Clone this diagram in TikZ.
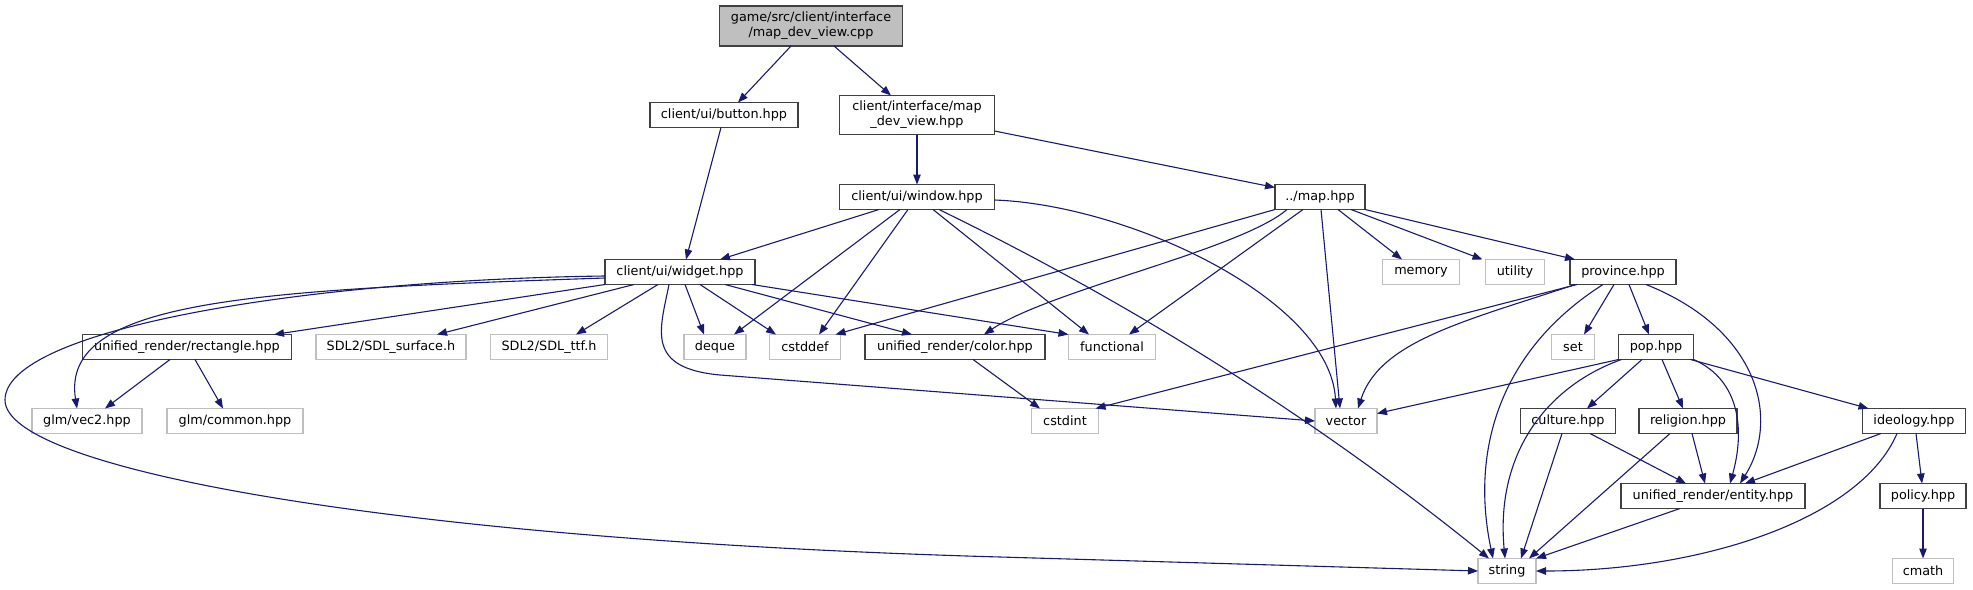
\documentclass[tikz,border=0pt]{standalone}
\usepackage{fontspec}
\setmainfont{DejaVu Sans}
\usetikzlibrary{arrows.meta}
\definecolor{edgeblue}{HTML}{191970}
\definecolor{lgray}{HTML}{BFBFBF}
\definecolor{dgray}{HTML}{404040}
\begin{document}
\begin{tikzpicture}[x=1pt,y=-1pt,
 box/.style={draw=dgray, line width=1.3pt, fill=white, inner sep=0pt, outer sep=0pt, font=\fontsize{12.8}{15}\selectfont, align=center, minimum height=25pt},
 gbox/.style={box, draw=lgray},
 rootbox/.style={box, fill=lgray, minimum height=40pt},
 e/.style={draw=edgeblue, line width=1.1pt, -{Triangle[length=10pt,width=7.5pt]}},
]
\useasboundingbox (0,0) rectangle (1973,589);
\node[rootbox, minimum width=183pt] (root) at (811,26) {game/src/client/interface\\/map\_dev\_view.cpp};
\node[box, minimum width=148pt] (button) at (724,115) {client/ui/button.hpp};
\node[box, minimum width=155pt, minimum height=39pt] (mdv) at (917,115) {client/interface/map\\\_dev\_view.hpp};
\node[box, minimum width=155pt] (window) at (917,197) {client/ui/window.hpp};
\node[box, minimum width=90pt] (map) at (1320,197) {../map.hpp};
\node[box, minimum width=150pt] (widget) at (680,272) {client/ui/widget.hpp};
\node[gbox, minimum width=77pt] (memory) at (1421,272) {memory};
\node[gbox, minimum width=59pt] (utility) at (1515,272) {utility};
\node[box, minimum width=106pt] (province) at (1623,272) {province.hpp};
\node[box, minimum width=209pt] (rect) at (187,347) {unified\_render/rectangle.hpp};
\node[gbox, minimum width=150pt] (sdlsurf) at (391,347) {SDL2/SDL\_surface.h};
\node[gbox, minimum width=117pt] (sdlttf) at (549,347) {SDL2/SDL\_ttf.h};
\node[gbox, minimum width=62pt] (deque) at (715,347) {deque};
\node[gbox, minimum width=71pt] (cstddef) at (805,347) {cstddef};
\node[box, minimum width=180pt] (color) at (955,347) {unified\_render/color.hpp};
\node[gbox, minimum width=87pt] (functional) at (1112,347) {functional};
\node[gbox, minimum width=43pt] (set) at (1573,347) {set};
\node[box, minimum width=75pt] (pop) at (1656,347) {pop.hpp};
\node[gbox, minimum width=110pt] (vec2) at (87,421) {glm/vec2.hpp};
\node[gbox, minimum width=136pt] (common) at (235,421) {glm/common.hpp};
\node[gbox, minimum width=67pt] (cstdint) at (1065,421) {cstdint};
\node[gbox, minimum width=62pt] (vector) at (1346,421) {vector};
\node[box, minimum width=95pt] (culture) at (1568,421) {culture.hpp};
\node[box, minimum width=98pt] (religion) at (1688,421) {religion.hpp};
\node[box, minimum width=103pt] (ideology) at (1914,421) {ideology.hpp};
\node[box, minimum width=184pt] (entity) at (1713,496) {unified\_render/entity.hpp};
\node[box, minimum width=86pt] (policy) at (1923,496) {policy.hpp};
\node[gbox, minimum width=58pt] (string) at (1507,571) {string};
\node[gbox, minimum width=61pt] (cmath) at (1923,571) {cmath};

\draw[e] ([xshift=-20pt]root.south) -- ([xshift=14pt]button.north);
\draw[e] ([xshift=23pt]root.south) -- ([xshift=-26pt]mdv.north);
\draw[e] ([xshift=-3pt]button.south) -- ([xshift=6pt]widget.north);
\draw[e] (mdv.south) -- (window.north);
\draw[e] ([yshift=-16pt]mdv.east) -- ([yshift=-3pt]map.north west);
\draw[e] ([xshift=-38pt]window.south) -- ([xshift=40pt]widget.north);
\draw[e] ([xshift=-17pt]window.south) -- ([xshift=19pt]deque.north);
\draw[e] ([xshift=-9pt]window.south) -- ([xshift=14pt]cstddef.north);
\draw[e] ([xshift=16pt]window.south) -- ([xshift=-23pt]functional.north);
\draw[e] ([xshift=22pt]window.south) .. controls (1135,305) and (1319,421) .. ([xshift=-18pt]string.north);
\draw[e] ([yshift=-3pt]window.east) .. controls (1130,205) and (1330,300) .. ([xshift=-10pt]vector.north);
\draw[e] (map.south west) -- ([xshift=-5pt]cstddef.north east);
\draw[e] ([xshift=-33pt]map.south) .. controls (1240,250) and (1050,290) .. ([xshift=29pt]color.north);
\draw[e] ([xshift=-17pt]map.south) -- ([xshift=17pt]functional.north);
\draw[e] ([xshift=1pt]map.south) -- ([xshift=-6pt]vector.north);
\draw[e] ([xshift=18pt]map.south) -- ([xshift=-19pt]memory.north);
\draw[e] ([xshift=31pt]map.south) -- ([xshift=-3pt]utility.north west);
\draw[e] (map.south east) -- ([xshift=5pt]province.north west);
\draw[e] (widget.south west) -- ([xshift=87pt]rect.north);
\draw[e] ([xshift=-46pt]widget.south) -- ([xshift=46pt]sdlsurf.north);
\draw[e] ([xshift=-22pt]widget.south) -- ([xshift=27pt]sdlttf.north);
\draw[e] ([xshift=5pt]widget.south) -- ([xshift=-11pt]deque.north);
\draw[e] ([xshift=20pt]widget.south) -- ([xshift=-29pt]cstddef.north);
\draw[e] ([xshift=45pt]widget.south) -- ([xshift=-43pt]color.north);
\draw[e] ([xshift=72pt]widget.south) -- (functional.north west);
\draw[e] ([xshift=-11pt]widget.south) .. controls (660,330) and (645,368) .. (720,375) -- (vector.west);
\draw[e] ([yshift=-6pt]widget.west) .. controls (250,290) and (60,300) .. ([xshift=-10pt]vec2.north);
\draw[e] ([yshift=-4pt]widget.west) .. controls (300,280) and (5,330) .. (5,400) .. controls (5,470) and (400,540) .. (1000,557) -- (string.west);
\draw[e] ([xshift=-17pt]rect.south) -- ([xshift=18pt]vec2.north);
\draw[e] ([xshift=8pt]rect.south) -- ([xshift=-12pt]common.north);
\draw[e] ([xshift=18pt]color.south) -- ([xshift=-25pt]cstdint.north);
\draw[e] ([xshift=7pt]province.south west) -- ([xshift=-3pt]cstdint.north east);
\draw[e] ([xshift=5pt]province.south west) .. controls (1470,320) and (1380,340) .. ([xshift=12pt]vector.north);
\draw[e] ([xshift=-20pt]province.south) .. controls (1500,350) and (1470,450) .. ([xshift=-14pt]string.north);
\draw[e] ([xshift=-9pt]province.south) -- ([xshift=11pt]set.north);
\draw[e] ([xshift=6pt]province.south) -- ([xshift=-7pt]pop.north);
\draw[e] ([xshift=23pt]province.south) .. controls (1760,330) and (1780,420) .. ([xshift=27pt]entity.north);
\draw[e] (pop.south west) -- ([yshift=-5pt]vector.north east);
\draw[e] ([xshift=-14pt]pop.south) -- ([xshift=19pt]culture.north);
\draw[e] ([xshift=6pt]pop.south) -- ([xshift=-5pt]religion.north);
\draw[e] (pop.south east) .. controls (1740,380) and (1745,430) .. ([xshift=17pt]entity.north);
\draw[e] ([xshift=-3pt]pop.south east) -- ([xshift=6pt]ideology.north west);
\draw[e] ([xshift=3pt]pop.south west) .. controls (1550,385) and (1495,450) .. ([xshift=-2pt]string.north);
\draw[e] ([xshift=-6pt]culture.south) -- ([xshift=14pt]string.north);
\draw[e] ([xshift=22pt]culture.south) -- ([xshift=-27pt]entity.north);
\draw[e] ([xshift=-18pt]religion.south) -- ([xshift=22pt]string.north);
\draw[e] ([xshift=4pt]religion.south) -- ([xshift=-8pt]entity.north);
\draw[e] ([xshift=-33pt]ideology.south) -- ([xshift=32pt]entity.north);
\draw[e] ([xshift=-17pt]ideology.south) .. controls (1860,520) and (1700,571) .. (string.east);
\draw[e] ([xshift=2pt]ideology.south) -- ([xshift=-1pt]policy.north);
\draw[e] (policy.south) -- (cmath.north);
\draw[e] ([xshift=-33pt]entity.south) -- (string.north east);
\end{tikzpicture}
\end{document}
